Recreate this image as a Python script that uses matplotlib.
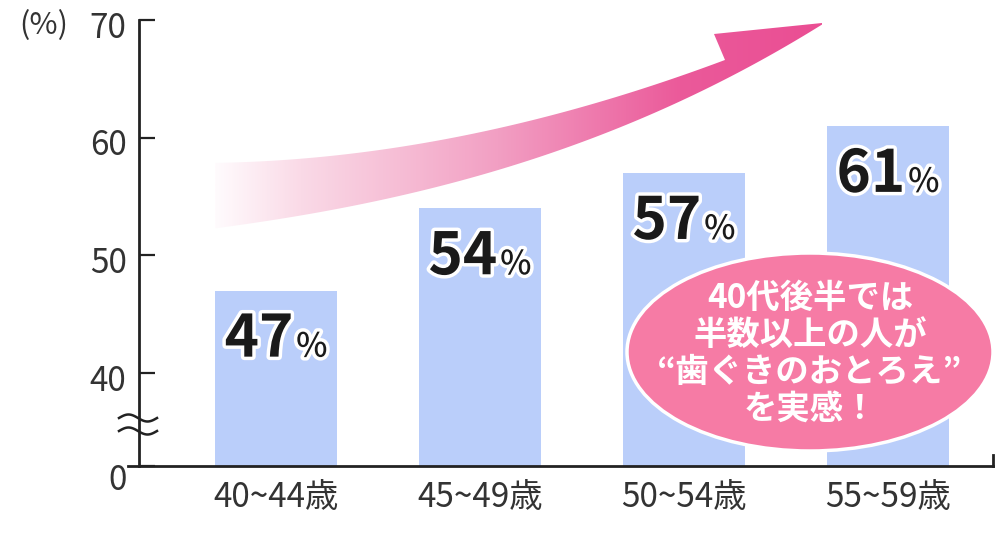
import numpy as np
import matplotlib
matplotlib.use("Agg")
import matplotlib.pyplot as plt
import matplotlib.patheffects as pe
import matplotlib.transforms as mtransforms
from matplotlib.patches import Ellipse, PathPatch
from matplotlib.path import Path
from matplotlib.colors import LinearSegmentedColormap

plt.rcParams['font.family'] = ['Noto Sans CJK JP', 'DejaVu Sans']

ages = ['40~44歳', '45~49歳', '50~54歳', '55~59歳']
rates = [47, 54, 57, 61]
tick_values = [40, 50, 60, 70]
tick_labels = ['0', '40', '50', '60', '70']
unit_label = '(%)'
callout = '40代後半では\n半数以上の人が\n“歯ぐきのおとろえ”\nを実感！'

# broken axis: where "0" sits on the drawn scale
zero_pos = 32.1

bar_color = '#BACEFA'
axis_color = '#222222'
text_color = '#333333'

fig = plt.figure(figsize=(10, 5.48), dpi=100)
ax = fig.add_axes([0.139, 0.1496, 0.854, 0.8139])

x = np.arange(len(ages))
ax.bar(x, np.array(rates) - zero_pos, bottom=zero_pos, width=0.6,
       color=bar_color, zorder=1)

ax.set_xlim(-0.6716, 3.5147)
ax.set_ylim(zero_pos, 70)
ax.set_yticks([zero_pos] + tick_values, tick_labels)
ax.set_xticks(x, ages)

ax.spines['top'].set_visible(False)
for s in ['left', 'bottom', 'right']:
    ax.spines[s].set_color(axis_color)
    ax.spines[s].set_linewidth(2)
ax.spines['bottom'].set_bounds(-0.726, 3.5147)
ax.spines['right'].set_bounds(zero_pos, zero_pos + 0.95)

ax.tick_params(axis='y', direction='in', length=11.5, width=1.6,
               color=axis_color, pad=9, labelsize=24, labelcolor=text_color)
ax.tick_params(axis='x', length=0, pad=10, labelsize=24, labelcolor=text_color)

# nudge y labels down a little like the original
for i, tick in enumerate(ax.yaxis.get_major_ticks()):
    dy = -0.10 if i == 0 else -0.04
    off = mtransforms.ScaledTranslation(0, dy, fig.dpi_scale_trans)
    tick.label1.set_transform(tick.label1.get_transform() + off)

stroke = [pe.withStroke(linewidth=5, foreground='white')]
for xi, v in zip(x, rates):
    ax.annotate(str(v), (xi, v), xytext=(12.5, -47.5), textcoords='offset points',
                ha='right', va='baseline', fontsize=42, fontweight='bold',
                color='#1a1a1a', path_effects=stroke, zorder=3)
    ax.annotate('%', (xi, v), xytext=(14.5, -47.5), textcoords='offset points',
                ha='left', va='baseline', fontsize=24, fontweight='medium',
                color='#1a1a1a', path_effects=stroke, zorder=3)

# overlay in pixel coords for the decorations
ov = fig.add_axes([0, 0, 1, 1], zorder=3)
ov.patch.set_alpha(0)

# curved gradient arrow
up_x = [215, 400, 500, 560, 627, 693, 725]
up_y = [163, 146, 130, 112, 93, 72, 60]
lo_x = [215, 400, 500, 573, 627, 693, 760, 822]
lo_y = [228, 197, 170, 143, 123, 97, 63, 23]
up_fit = np.polyfit(up_x, up_y, 3)
lo_fit = np.polyfit(lo_x, lo_y, 3)
ux = np.linspace(215, 725, 80)
lx = np.linspace(822, 215, 100)
verts = list(zip(ux, np.polyval(up_fit, ux)))
verts += [(714, 34), (822, 23)]
verts += list(zip(lx, np.polyval(lo_fit, lx)))
verts += [verts[0]]
codes = [Path.MOVETO] + [Path.LINETO] * (len(verts) - 2) + [Path.CLOSEPOLY]
arrow_path = Path(verts, codes)

cmap = LinearSegmentedColormap.from_list('pinkfade', [
    (0.0, '#FFFBFD'), (0.138, '#FADAE7'), (0.30, '#F6BDD5'),
    (0.46, '#F29FC3'), (0.626, '#EE78AC'), (0.756, '#EB5A9A'),
    (1.0, '#EA4D93')])
grad = np.linspace(0, 1, 256).reshape(1, -1)
im = ov.imshow(grad, extent=(215, 830, 240, 15), cmap=cmap, aspect='auto',
               interpolation='bilinear', zorder=2)
clip = PathPatch(arrow_path, facecolor='none', edgecolor='none')
ov.add_patch(clip)
im.set_clip_path(clip)

# callout bubble
ov.add_patch(Ellipse((810, 352), 366, 198, facecolor='#F67BA5',
                     edgecolor='white', linewidth=2.5, zorder=4))
ov.text(810, 354, callout, ha='center', va='center', multialignment='center',
        fontsize=24, fontweight='bold', color='white', linespacing=1.15, zorder=5)

# unit label
ov.text(44, 26, unit_label, ha='center', va='center', fontsize=22,
        color=text_color)

# break marks on the y axis
xs = np.linspace(119, 157, 60)
for yc in (418, 431):
    ov.plot(xs, yc - 3.5 * np.sin(2 * np.pi * (xs - 119) / 38),
            color=axis_color, lw=1.8, zorder=3)

ov.set_xlim(0, 1000)
ov.set_ylim(548, 0)
ov.axis('off')

fig.savefig('out.png', dpi=100)
